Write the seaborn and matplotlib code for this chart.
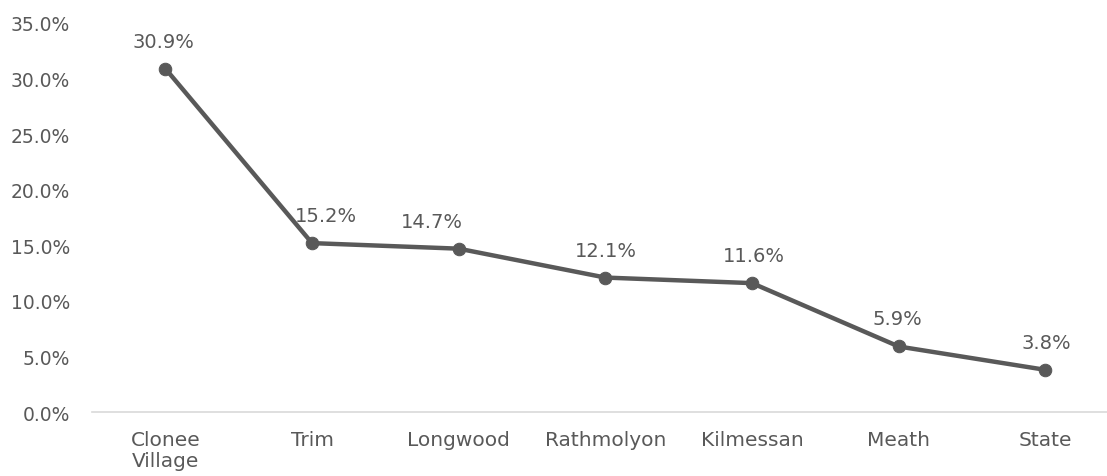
import matplotlib
matplotlib.use("Agg")
import matplotlib.pyplot as plt
import seaborn as sns
import pandas as pd
from matplotlib.ticker import FuncFormatter

categories = ["Clonee\nVillage", "Trim", "Longwood", "Rathmolyon", "Kilmessan", "Meath", "State"]
values = [30.9, 15.2, 14.7, 12.1, 11.6, 5.9, 3.8]
y_ticks = [0, 5, 10, 15, 20, 25, 30, 35]
# horizontal nudges of the value labels (pixels), as placed in the reference
label_dx = [-2, 14, -27, 1, 2, -1, 1]

sns.set_theme(style="white")
plt.rcParams['font.family'] = ['DejaVu Sans']

df = pd.DataFrame({"area": categories, "pct": values, "pos": range(len(categories))})

fig = plt.figure(figsize=(11.07, 4.77), dpi=100)
ax = fig.add_axes([0.0831, 0.134, 0.9169, 0.8157])
col = "#595959"
sns.lineplot(data=df, x="pos", y="pct", ax=ax, color=col, linewidth=3.2,
             marker="o", markersize=9, markeredgecolor=col, markerfacecolor=col, sort=False)

for i, v in enumerate(values):
    ax.annotate(f"{v:.1f}%", (i, v), xytext=(label_dx[i] * 0.72, 13), textcoords="offset points",
                ha="center", va="bottom", fontsize=14, color=col)

ax.set_xlim(-0.5, len(categories) - 0.58)
ax.set_ylim(0, 35)
ax.set_xticks(range(len(categories)))
ax.set_xticklabels(categories, fontsize=14.5, color=col, linespacing=1.15)
ax.set_yticks(y_ticks)
ax.yaxis.set_major_formatter(FuncFormatter(lambda v, p: f"{v:.1f}%"))
ax.tick_params(axis="y", labelsize=13.5, labelcolor=col, length=0, pad=16)
ax.tick_params(axis="x", length=0, pad=13)
ax.set_xlabel("")
ax.set_ylabel("")
for s in ["top", "right", "left"]:
    ax.spines[s].set_visible(False)
ax.spines["bottom"].set_color("#d9d9d9")
ax.spines["bottom"].set_linewidth(1.2)
ax.grid(False)

fig.savefig("out.png", dpi=100)
